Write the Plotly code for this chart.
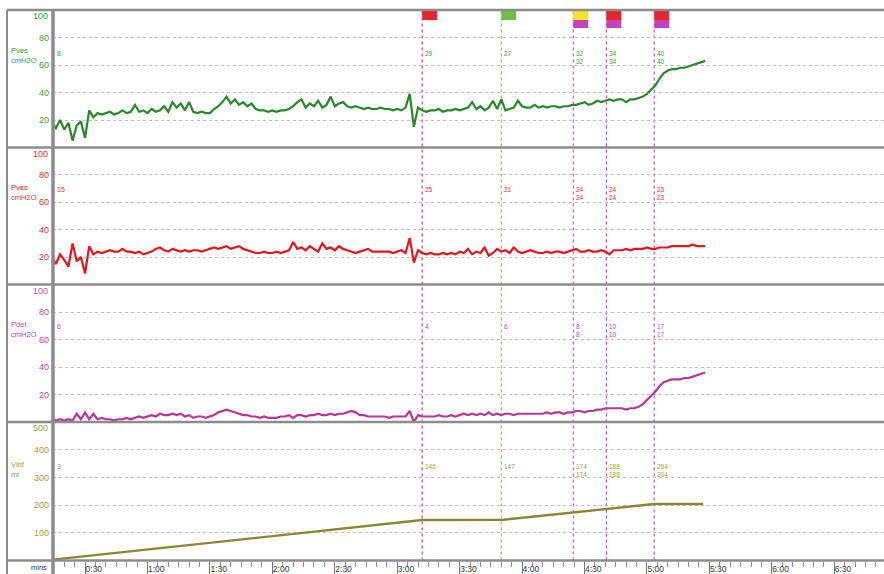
import plotly.graph_objects as go

W, H = 884, 574

# ---------------- data ----------------
t_start, t_step = 14, 2  # pressure samples every 2 s starting at 0:14

pves = [
    18, 14, 20, 13, 18, 5, 16, 19, 7, 27,
    22, 25, 24, 25, 26, 24, 25, 27, 25, 26,
    31, 26, 27, 25, 28, 26, 27, 30, 26, 33,
    29, 32, 27, 33, 26, 25, 26, 25, 25, 28,
    30, 33, 37, 32, 35, 31, 33, 30, 32, 28,
    27, 27, 26, 27, 26, 27, 27, 28, 30, 33,
    35, 29, 32, 30, 34, 29, 31, 37, 30, 32,
    33, 30, 29, 30, 29, 28, 29, 28, 28, 29,
    28, 28, 27, 28, 27, 29, 39, 15, 29, 27,
    26, 27, 27, 28, 26, 27, 27, 28, 27, 28,
    29, 33, 28, 30, 27, 29, 34, 28, 35, 27,
    28, 29, 34, 30, 29, 29, 31, 29, 30, 29,
    30, 30, 29, 30, 30, 31, 31, 32, 33, 31,
    32, 34, 33, 34, 35, 34, 35, 35, 33, 35,
    35, 36, 37, 39, 42, 45, 50, 54, 56, 57,
    57, 58, 58, 59, 60, 61, 62, 63,
]

pabd = [
    20, 15, 22, 18, 13, 30, 17, 20, 8, 28,
    22, 24, 23, 24, 25, 24, 24, 26, 24, 24,
    23, 24, 22, 23, 24, 26, 27, 25, 24, 26,
    25, 24, 25, 24, 25, 25, 24, 25, 26, 27,
    26, 27, 28, 26, 27, 28, 26, 25, 24, 23,
    23, 24, 23, 23, 24, 23, 24, 25, 31, 26,
    27, 25, 28, 26, 24, 30, 26, 27, 25, 28,
    26, 25, 24, 23, 24, 25, 26, 24, 24, 24,
    24, 24, 23, 24, 25, 23, 34, 16, 25, 23,
    22, 23, 22, 22, 23, 22, 23, 22, 24, 23,
    26, 22, 24, 23, 27, 21, 23, 26, 24, 25,
    23, 27, 24, 23, 24, 25, 24, 23, 23, 24,
    23, 24, 24, 23, 24, 25, 26, 24, 24, 25,
    24, 24, 25, 24, 22, 25, 25, 25, 26, 25,
    26, 26, 26, 27, 26, 26, 27, 27, 27, 28,
    28, 28, 28, 28, 29, 28, 28, 28,
]

pdet = [
    2, 1, 2, 1, 2, 1, 6, 2, 7, 2,
    6, 2, 3, 2, 2, 1, 2, 2, 3, 2,
    3, 4, 3, 4, 5, 4, 6, 5, 5, 6,
    5, 6, 4, 5, 3, 4, 4, 3, 4, 5,
    7, 8, 9, 8, 7, 6, 5, 5, 4, 4,
    3, 4, 3, 3, 3, 4, 4, 5, 3, 5,
    5, 4, 5, 5, 6, 5, 5, 6, 5, 6,
    6, 7, 8, 7, 5, 5, 4, 4, 4, 4,
    4, 3, 4, 4, 4, 4, 8, 0, 5, 4,
    4, 4, 4, 5, 4, 4, 5, 4, 5, 6,
    5, 6, 5, 6, 5, 7, 5, 6, 5, 6,
    6, 5, 6, 6, 6, 6, 6, 6, 6, 7,
    6, 7, 7, 6, 7, 7, 8, 8, 7, 8,
    8, 9, 9, 10, 10, 10, 10, 10, 9, 10,
    10, 11, 13, 16, 19, 22, 26, 29, 30, 31,
    31, 31, 32, 32, 33, 34, 35, 36,
]

vinf_t = [14.6, 192, 231, 264.6, 280.5, 303.5, 327]
vinf = [3, 146, 147, 174, 188, 204, 204]

events_t = [192, 230, 264.6, 280.5, 303.5]
event_line_colors = ["#d2486e", "#8cbf6c", "#c464c4", "#d0508e", "#c058c0"]
marker_top = ["#e5262b", "#6cc04a", "#f2e62a", "#e5262b", "#e5262b"]
marker_bottom = [None, None, "#c543b8", "#c543b8", "#c543b8"]

start_labels = ["8", "15", "6", "3"]
pves_lbl = ["29", "27", "32<br>32", "34<br>34", "40<br>40"]
pabd_lbl = ["25", "21", "24<br>24", "24<br>24", "23<br>23"]
pdet_lbl = ["4", "6", "8<br>8", "10<br>10", "17<br>17"]
vinf_lbl = ["146", "147", "174<br>174", "188<br>188", "204<br>204"]

x_tickvals = [30, 60, 90, 120, 150, 180, 210, 240, 270, 300, 330, 360, 390]
x_ticktext = ["0:30", "1:00", "1:30", "2:00", "2:30", "3:00", "3:30",
              "4:00", "4:30", "5:00", "5:30", "6:00", "6:30"]

panel_titles = ["Pves<br>cmH2O", "Pves<br>cmH2O", "Pdet<br>cmH2O", "Vinf<br>ml"]
panel_ticks = [[20, 40, 60, 80], [20, 40, 60, 80], [20, 40, 60, 80], [100, 200, 300, 400]]
panel_top = ["100", "100", "100", "500"]
panel_range = [[0, 100], [0, 100], [0, 100], [0, 500]]

# ---------------- style ----------------
trace_colors = ["#2a862a", "#e3141e", "#b8369a", "#8a8636"]
label_colors = ["#3aa03a", "#e83030", "#c04aac", "#a0a040"]
panel_px = [(10, 147.5), (147.5, 284.5), (284.5, 422), (422, 560.5)]
frame_col = "#8c8c8c"
FONT = "Liberation Sans, Arial, sans-serif"


def py(p):
    return 1 - p / H


def pxx(p):
    return p / W


times = [t_start + t_step * i for i in range(len(pves))]
series = [(times, pves), (times[:len(pabd)], pabd), (times[:len(pdet)], pdet), (vinf_t, vinf)]

fig = go.Figure()
ynames = ["y", "y2", "y3", "y4"]
for i, (tx, vy) in enumerate(series):
    fig.add_trace(go.Scatter(x=tx, y=vy, mode="lines", xaxis="x", yaxis=ynames[i],
                             line=dict(color=trace_colors[i], width=2.2 if i < 3 else 2.4),
                             hoverinfo="skip", showlegend=False))

layout = dict(
    width=W, height=H, margin=dict(l=0, r=0, t=0, b=0),
    paper_bgcolor="white", plot_bgcolor="white",
    font=dict(family=FONT, size=9),
    showlegend=False,
    xaxis=dict(domain=[pxx(53), 1], range=[14.6, 413.9], anchor="y4",
               tickmode="array", tickvals=x_tickvals, ticktext=x_ticktext,
               ticks="outside", ticklen=12, tickcolor="#777", tickwidth=1,
               ticklabelposition="outside right",
               tickfont=dict(size=8.5, color="#333"),
               minor=dict(tickmode="linear", tick0=0, dtick=5, ticks="outside",
                          ticklen=5, tickcolor="#888", tickwidth=1, showgrid=False),
               showgrid=False, zeroline=False, showline=False),
)
for i in range(4):
    top, bot = panel_px[i]
    key = "yaxis" if i == 0 else f"yaxis{i+1}"
    layout[key] = dict(domain=[py(bot), py(top)], range=panel_range[i], anchor="x",
                       tickmode="array", tickvals=panel_ticks[i],
                       tickfont=dict(size=9, color=label_colors[i]),
                       ticks="", ticklabelstandoff=3,
                       showgrid=True, gridcolor="#c9bcc9", griddash="dot", gridwidth=1.3,
                       zeroline=False, showline=False, fixedrange=True)
fig.update_layout(**layout)

shapes = []
annotations = []

# event vertical lines
for t, c in zip(events_t, event_line_colors):
    shapes.append(dict(type="line", xref="x", yref="paper", x0=t, x1=t,
                       y0=py(560.5), y1=py(10), line=dict(color=c, width=1.2, dash="dot"),
                       layer="below"))

# marker boxes on top
box_w = 7.2
for t, ct, cb in zip(events_t, marker_top, marker_bottom):
    shapes.append(dict(type="rect", xref="x", yref="paper", x0=t, x1=t + box_w,
                       y0=py(20), y1=py(10.5), fillcolor=ct, line=dict(width=0)))
    if cb:
        shapes.append(dict(type="rect", xref="x", yref="paper", x0=t, x1=t + box_w,
                           y0=py(28), y1=py(20), fillcolor=cb, line=dict(width=0)))

# frame lines
for yb in [10, 147.5, 284.5, 422, 560.5]:
    shapes.append(dict(type="line", xref="paper", yref="paper", x0=pxx(7), x1=1,
                       y0=py(yb), y1=py(yb), line=dict(color=frame_col, width=2.5)))
shapes.append(dict(type="line", xref="paper", yref="paper", x0=pxx(7), x1=pxx(7),
                   y0=py(574), y1=py(10), line=dict(color=frame_col, width=2)))
shapes.append(dict(type="line", xref="paper", yref="paper", x0=pxx(53), x1=pxx(53),
                   y0=py(574), y1=py(10), line=dict(color=frame_col, width=3.5)))

# panel titles, top labels and value annotations
label_sets = [pves_lbl, pabd_lbl, pdet_lbl, vinf_lbl]
label_top_px = [48, 184, 321, 461]
title_top_px = [44, 181, 318, 458]
for i in range(4):
    top, bot = panel_px[i]
    annotations.append(dict(text=panel_titles[i], xref="paper", yref="paper",
                            x=pxx(9), y=py(title_top_px[i]), xanchor="left", yanchor="top",
                            align="left", showarrow=False,
                            font=dict(size=7.6, color=label_colors[i])))
    annotations.append(dict(text=panel_top[i], xref="paper", yref="paper",
                            x=pxx(50), y=py(top + 6), xanchor="right", yanchor="middle",
                            showarrow=False, font=dict(size=9, color=label_colors[i])))
    annotations.append(dict(text=start_labels[i], xref="paper", yref="paper",
                            x=pxx(55), y=py(label_top_px[i]), xanchor="left", yanchor="top",
                            showarrow=False, font=dict(size=7, color=label_colors[i])))
    for t, lbl in zip(events_t, label_sets[i]):
        annotations.append(dict(text=lbl, xref="x", yref="paper", x=t, xshift=1,
                                y=py(label_top_px[i]), xanchor="left", yanchor="top",
                                align="left", showarrow=False,
                                font=dict(size=6.5, color=label_colors[i])))

annotations.append(dict(text="mins", xref="paper", yref="paper", x=pxx(49), y=py(567),
                        xanchor="right", yanchor="middle", showarrow=False,
                        font=dict(size=7.5, color="#333")))

fig.update_layout(shapes=shapes, annotations=annotations)
fig.write_html("out.html")
